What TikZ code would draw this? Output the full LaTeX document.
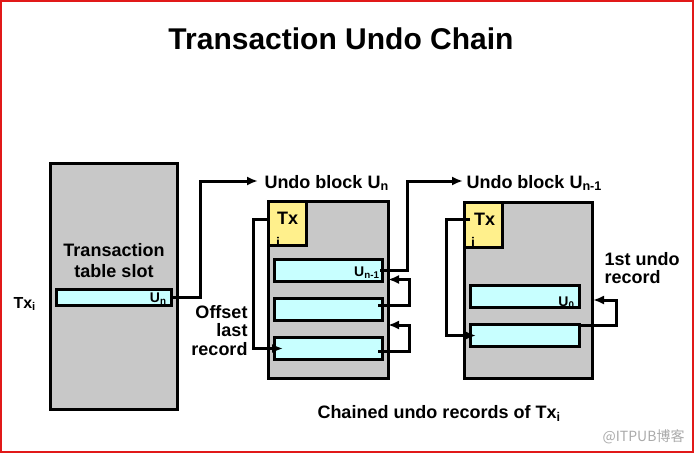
\documentclass[tikz,border=0pt]{standalone}
\usepackage{fontspec}
\setmainfont{Liberation Sans}
\newfontfamily\cjkfont{Noto Sans CJK SC}
\usetikzlibrary{calc,arrows.meta}
\definecolor{blockgray}{RGB}{200,200,200}
\definecolor{reccyan}{RGB}{200,255,255}
\definecolor{txyellow}{RGB}{255,240,140}
\definecolor{framered}{RGB}{225,25,25}
\begin{document}
\begin{tikzpicture}[>={Latex[length=11pt,width=9pt]}, x=1pt, y=-1pt, line width=3pt,
    block/.style={draw, fill=blockgray, inner sep=0pt},
    record/.style={draw, fill=reccyan, inner sep=0pt, minimum height=22pt},
    txbox/.style={draw, fill=txyellow, inner sep=0pt, minimum width=38pt, minimum height=44pt},
    big/.style={font=\fontsize{18}{18.5}\selectfont\bfseries, inner sep=0pt},
    small/.style={font=\fontsize{14}{15}\selectfont\bfseries, inner sep=0pt}]
\useasboundingbox (0,0) rectangle (695,455);
\draw[framered, line width=2pt] (1,0.5) rectangle (693,452);

\node[font=\fontsize{30}{36}\selectfont\bfseries] (title) at (341,39) {Transaction Undo Chain};

% transaction table
\node[block, minimum width=127pt, minimum height=246pt] (table) at (114,286.5) {};
\node[big, font=\fontsize{18}{21}\selectfont\bfseries, align=center] (tablelab) at (114,260.5) {Transaction\\table slot};
\node[record, minimum width=115pt, minimum height=16pt] (slot) at (114,297.5) {};
\node[small, anchor=base east] (slotlab) at ($(slot.east)+(-5,4.5)$) {U\textsubscript{n}};
\node[font=\fontsize{16}{18}\selectfont\bfseries, inner sep=0pt, anchor=base west] (txi) at (12,308) {Tx\textsubscript{i}};

% undo block U_n
\node[block, minimum width=120pt, minimum height=177pt] (blkA) at (328.5,290) {};
\node[txbox] (txA) at (287.5,223.5) {};
\node[big] (txAt) at (287.5,218) {Tx};
\node[small] (txAi) at (278,242) {i};
\foreach \n/\y in {1/270.5, 2/309.5, 3/348.5}
    \node[record, minimum width=108pt] (recA\n) at (328.5,\y) {};
\node[small, anchor=base east] (recAlab) at ($(recA1.east)+(-3,5.5)$) {U\textsubscript{n-1}};
\node[big, anchor=base west, inner xsep=5pt] (hdrA) at (258,188) {Undo block U\textsubscript{n}};

% undo block U_n-1
\node[block, minimum width=128pt, minimum height=176pt] (blkB) at (528.5,290.5) {};
\node[txbox, minimum height=45pt] (txB) at (483.5,225) {};
\node[big] (txBt) at (484.5,219) {Tx};
\node[small] (txBi) at (473,242) {i};
\foreach \n/\y in {1/296.5, 2/335.5}
    \node[record, minimum width=109pt] (recB\n) at (525,\y) {};
\node[small, anchor=base east] (recBlab) at ($(recB1.east)+(-5,9.5)$) {U\textsubscript{0}};
\node[big, anchor=base west, inner xsep=2pt] (hdrB) at (463,188) {Undo block U\textsubscript{n-1}};

% labels
\node[big, align=right, anchor=east] (offlab) at (249,330.5) {Offset\\last\\record};
\node[big, align=left, anchor=west] (firstlab) at (603,268) {1st undo\\record};
\node[big, anchor=base west] (chainlab) at (316,418) {Chained undo records of Tx\textsubscript{i}};
\node[text={rgb,255:red,170;green,170;blue,170}, font=\fontsize{14}{16}\selectfont\cjkfont, inner sep=0pt, anchor=east] (wm) at (686,437) {@ITPUB博客};

% chain
\draw[->] (slot.east) -- ++(27,0) |- ($(hdrA.base west)+(0,-7)$);
\draw[->] ($(recA1.east)+(-4,0)$) -- ++(27,0) |- ($(hdrB.base west)+(0,-7)$);
\draw[->] ($(recA2.east)+(-6,-4.5)$) -- ++(31,0) |- ($(recA1.east)+(4,9)$);
\draw[->] ($(recA3.east)+(-6,2.5)$) -- ++(31,0) |- ($(recA2.east)+(4,15.5)$);
\draw[->] ($(txA.west)+(1,-4.5)$) -- ++(-15,0) |- ($(recA3.west)+(10,0)$);
\draw[->] ($(txB.west)+(7,-6)$) -- ++(-24,0) |- ($(recB2.west)+(7,0)$);
\draw[->] ($(recB2.east)+(-1,-10.5)$) -- ++(36,0) |- ($(recB1.east)+(12,3.5)$);
\end{tikzpicture}
\end{document}
